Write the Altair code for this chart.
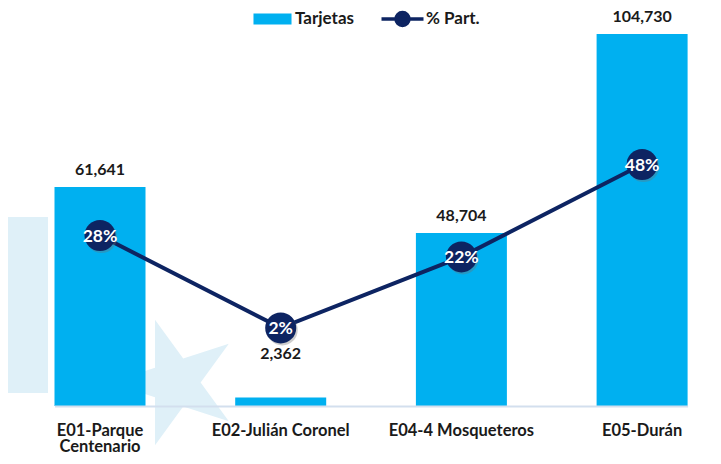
import altair as alt
import pandas as pd

# ---- data ----
categorias = ["E01-Parque Centenario", "E02-Julián Coronel", "E04-4 Mosqueteros", "E05-Durán"]
tarjetas = [61641, 2362, 48704, 104730]
participacion = [28, 2, 22, 48]

df = pd.DataFrame({"estacion": categorias, "tarjetas": tarjetas, "pct": participacion})
deco = pd.DataFrame({"d": [0]})

FONT = "Lato"
BAR = "#00B0F0"
NAVY = "#0D2462"
DECO = "#DFF0F8"
TXT = "#1A1A1A"

STAR = ("M-1,0 L-0.309,-0.225 L-0.309,-0.951 L0.118,-0.363 L0.809,-0.588 L0.382,0 "
        "L0.809,0.588 L0.118,0.363 L-0.309,0.951 L-0.309,0.225 Z")
BAR_SYM = "M-3.17,-0.92 H3.17 V0.92 H-3.17 Z"
LINE_SYM = "M-3.5,0 H3.5 M1.08,0 A1.08,1.08,0,1,1,-1.08,0 A1.08,1.08,0,1,1,1.08,0 Z"

x = alt.X(
    "estacion:N", sort=categorias, title=None,
    scale=alt.Scale(range=[46.5, 679.6], paddingInner=0.4964, paddingOuter=0),
    axis=alt.Axis(
        labelAngle=0, ticks=False, grid=False, domainColor="#D3DFEE", domainWidth=2,
        labelFont=FONT, labelFontSize=16.5, labelFontWeight="bold", labelColor=TXT,
        labelPadding=29, labelLineHeight=16.5, labelBaseline="alphabetic", zindex=1,
        labelExpr="datum.label == 'E01-Parque Centenario' ? ['E01-Parque', 'Centenario'] : datum.label",
    ),
)
ybar = alt.Y("tarjetas:Q", scale=alt.Scale(domain=[0, 112050], nice=False, zero=True), axis=None)
ypct = alt.Y("pct:Q", scale=alt.Scale(domain=[-20, 92.1], nice=False, zero=False), axis=None)

base = alt.Chart(df)

rect_deco = alt.Chart(deco).mark_rect(color=DECO).encode(
    x=alt.value(0), x2=alt.value(40), y=alt.value(209), y2=alt.value(385)
)
star_deco = alt.Chart(deco).mark_point(
    shape=STAR, size=17424, filled=True, opacity=1, color=DECO, strokeWidth=0
).encode(x=alt.value(167.4), y=alt.value(374.5))

bars = base.mark_bar().transform_calculate(s1="'Tarjetas'").encode(
    x=x, y=ybar,
    fill=alt.Fill(
        "s1:N", scale=alt.Scale(domain=["Tarjetas"], range=[BAR]),
        legend=alt.Legend(
            title=None, orient="none", legendX=256, legendY=2.5, padding=0,
            symbolType=BAR_SYM, symbolSize=144, symbolStrokeWidth=0,
            labelFont=FONT, labelFontSize=17, labelFontWeight="bold", labelColor=TXT,
            labelOffset=14,
        ),
    ),
)

bar_labels = base.mark_text(
    dy=-12, baseline="alphabetic", font=FONT, fontSize=16, fontWeight="bold", color=TXT
).transform_filter("datum.estacion != 'E02-Julián Coronel'").encode(
    x=x, y=ybar, text=alt.Text("tarjetas:Q", format=",")
)
bar_label_e02 = base.mark_text(
    dy=-39, baseline="alphabetic", font=FONT, fontSize=16, fontWeight="bold", color=TXT
).transform_filter("datum.estacion == 'E02-Julián Coronel'").encode(
    x=x, y=ybar, text=alt.Text("tarjetas:Q", format=",")
)

line = base.mark_line(strokeWidth=4).transform_calculate(s2="'% Part.'").encode(
    x=x, y=ypct,
    stroke=alt.Stroke(
        "s2:N", scale=alt.Scale(domain=["% Part."], range=[NAVY]),
        legend=alt.Legend(
            title=None, orient="none", legendX=386, legendY=2.5, padding=0,
            symbolType=LINE_SYM, symbolSize=144, symbolStrokeWidth=3.5,
            symbolFillColor=NAVY,
            labelFont=FONT, labelFontSize=17, labelFontWeight="bold", labelColor=TXT,
            labelOffset=15,
        ),
    ),
)

shadow = base.mark_circle(size=962, color="#6F6F6F", opacity=0.35, xOffset=1.5, yOffset=2).encode(x=x, y=ypct)
circles = base.mark_circle(size=962, color=NAVY, opacity=1).encode(x=x, y=ypct)
circle_text = base.mark_text(
    baseline="middle", font=FONT, fontSize=17.5, fontWeight="bold", color="white", dy=1
).transform_calculate(lbl="datum.pct + '%'").encode(x=x, y=ypct, text="lbl:N")

chart = alt.layer(
    rect_deco, star_deco, bars, bar_labels, bar_label_e02, line, shadow, circles, circle_text
).resolve_scale(
    y="independent", fill="independent", stroke="independent"
).properties(
    width=705, height=398, background="white",
    autosize=alt.AutoSizeParams(type="none"),
    padding={"left": 0, "top": 0, "right": 0, "bottom": 49},
).configure_view(strokeWidth=0)

chart.save("out.html", embed_options={"renderer": "svg", "actions": False})
